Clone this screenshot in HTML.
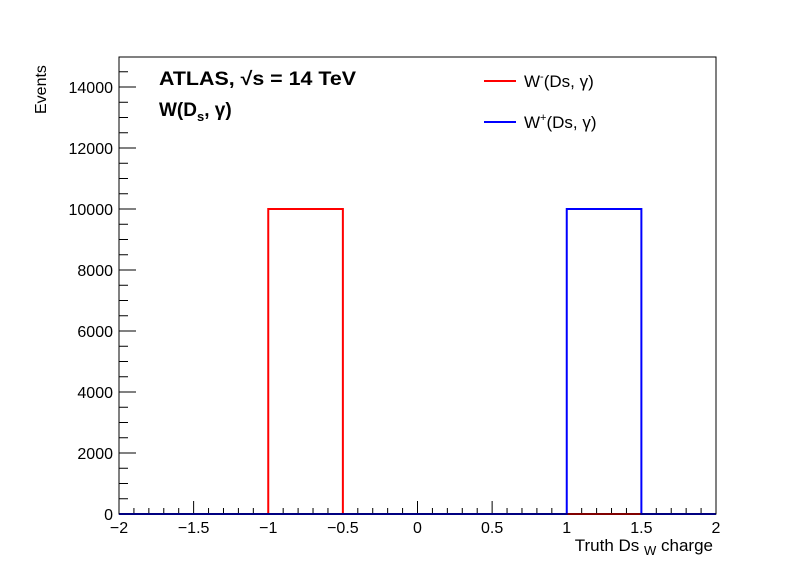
<!DOCTYPE html>
<html><head><meta charset="utf-8"><style>
body{margin:0;background:#fff;}
svg{display:block;font-family:"Liberation Sans",sans-serif;}
</style></head><body>
<svg id="chart" width="796" height="572" viewBox="0 0 796 572">
<rect x="0" y="0" width="796" height="572" fill="#fff"/>
<g id="axes"></g>
<g id="series"></g>
<rect x="119" y="57" width="597" height="457" fill="none" stroke="#000" stroke-width="1"/>
<text x="0" y="0" transform="translate(46,114) rotate(-90)" font-size="16">Events</text>
<text x="713" y="551" text-anchor="end" font-size="17">Truth Ds <tspan font-size="13" dy="4">W</tspan><tspan dy="-4"> charge</tspan></text>
<text x="159" y="85" font-size="19" font-weight="bold" textLength="197" lengthAdjust="spacingAndGlyphs">ATLAS,  √s = 14 TeV</text>
<text x="159" y="116" font-size="19" font-weight="bold">W(D<tspan font-size="13" dy="5">s</tspan><tspan dy="-5">,  γ)</tspan></text>
<g>
<line x1="484" y1="81" x2="516" y2="81" stroke="#ff0000" stroke-width="2"/>
<text x="524" y="87" font-size="17">W<tspan font-size="11" dy="-7">-</tspan><tspan dy="7">(Ds,  γ)</tspan></text>
<line x1="484" y1="122" x2="516" y2="122" stroke="#0000ff" stroke-width="2"/>
<text x="524" y="128" font-size="17">W<tspan font-size="11" dy="-7">+</tspan><tspan dy="7">(Ds,  γ)</tspan></text>
</g>
</svg>
<script>
const binEdges=[-2,-1.5,-1,-0.5,0,0.5,1,1.5,2];
const wMinus=[0,0,10000,0,0,0,0,0];
const wPlus=[0,0,0,0,0,0,10000,0];
const xTicks=[-2,-1.5,-1,-0.5,0,0.5,1,1.5,2];
const xTickLabels=["−2","−1.5","−1","−0.5","0","0.5","1","1.5","2"];
const yTicks=[0,2000,4000,6000,8000,10000,12000,14000];
const yTickLabels=["0","2000","4000","6000","8000","10000","12000","14000"];
const X0=119,X1=716,Y0=514,Y1=57,xmin=-2,xmax=2,ymin=0,ymax=14984;
const sx=v=>X0+(v-xmin)/(xmax-xmin)*(X1-X0);
const sy=v=>Y0-(v-ymin)/(ymax-ymin)*(Y0-Y1);
const NS="http://www.w3.org/2000/svg";
const axes=document.getElementById('axes'),series=document.getElementById('series');
function mk(t,a,p){const e=document.createElementNS(NS,t);for(const k in a)e.setAttribute(k,a[k]);p.appendChild(e);return e;}
for(let v=xmin;v<=xmax+1e-9;v+=0.1){
 const major=Math.abs(v*2-Math.round(v*2))<1e-6;
 const l=mk('line',{x1:sx(v),x2:sx(v),y1:Y0,y2:Y0-(major?13:6),stroke:'#000'},axes);
 
 
}
xTicks.forEach((v,i)=>{
 const t=mk('text',{x:sx(v),y:533,'text-anchor':'middle','font-size':16},axes);
 t.textContent=xTickLabels[i];
 
 
});
for(let v=0;v<=ymax;v+=500){
 const major=v%2000===0;
 const l=mk('line',{x1:X0,x2:X0+(major?17:9),y1:sy(v),y2:sy(v),stroke:'#000'},axes);
 
 
}
yTicks.forEach((v,i)=>{
 const t=mk('text',{x:113,y:sy(v)+6,'text-anchor':'end','font-size':16},axes);
 t.textContent=yTickLabels[i];
 
 
});
function stepPath(vals){
 let d='M'+sx(binEdges[0])+','+sy(vals[0]);
 for(let i=0;i<vals.length;i++){
  d+=' L'+sx(binEdges[i])+','+sy(vals[i])+' L'+sx(binEdges[i+1])+','+sy(vals[i]);
  if(i+1<vals.length)d+=' L'+sx(binEdges[i+1])+','+sy(vals[i+1]);
 }
 return d;
}
const pm=mk('path',{d:stepPath(wMinus),fill:'none',stroke:'#ff0000','stroke-width':2},series);


const pp=mk('path',{d:stepPath(wPlus),fill:'none',stroke:'#0000ff','stroke-width':2},series);


</script>
</body></html>
